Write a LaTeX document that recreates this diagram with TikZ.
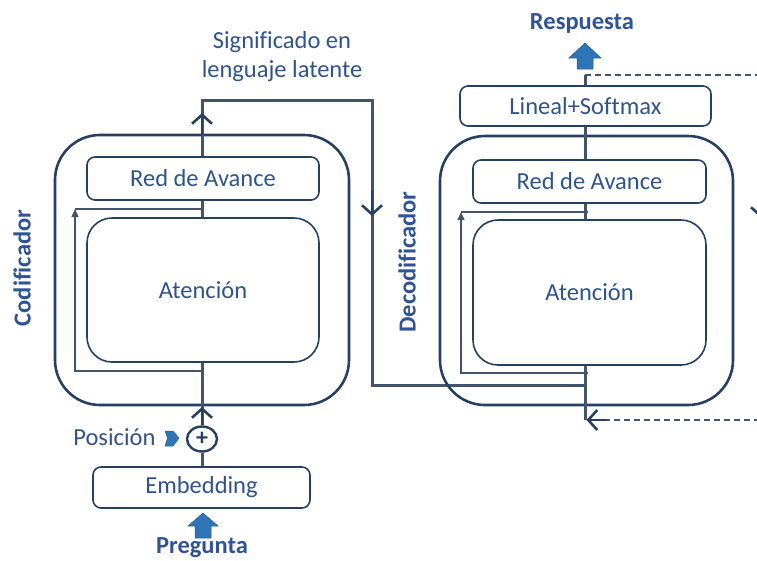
\documentclass[tikz,border=0pt]{standalone}
\usepackage{fontspec}
\setmainfont{Carlito}[Ligatures=NoCommon]
\usetikzlibrary{arrows.meta,shapes.geometric}
\definecolor{boxdark}{RGB}{38,64,98}
\definecolor{linegray}{RGB}{68,84,106}
\definecolor{txtblue}{RGB}{47,84,140}
\definecolor{lblblue}{RGB}{46,84,150}
\definecolor{arrfill}{RGB}{46,117,182}
\tikzset{
  outerbox/.style={draw=boxdark, line width=2.6pt, rounded corners=45pt, inner sep=0pt},
  innerbox/.style={draw=boxdark, line width=1.6pt, rounded corners=8pt, fill=white, inner sep=0pt, text=txtblue, font=\fontsize{24.5}{29}\selectfont},
  bigbox/.style={innerbox, rounded corners=25pt},
  mainline/.style={draw=linegray, line width=3pt},
  skipline/.style={draw=linegray, line width=1.3pt},
  chev/.style={draw=boxdark, line width=2.6pt, -{Straight Barb[length=9pt,width=20pt,line width=2.6pt]}},
  lbl/.style={text=lblblue, font=\fontsize{24.5}{29}\selectfont\bfseries},
  plain/.style={text=txtblue, font=\fontsize{24.5}{29}\selectfont, align=center},
  blockarrow/.style={fill=arrfill, draw=arrfill!80!black, line width=0.5pt},
  dashline/.style={draw=linegray, line width=1.5pt, dash pattern=on 6pt off 4pt},
}
\begin{document}
\begin{tikzpicture}[x=1pt,y=-1pt]
\useasboundingbox (0,0) rectangle (757,560);
% ---------- Encoder ----------
\node[outerbox, minimum width=294pt, minimum height=270pt] (enc) at (202,270) {};
\node[innerbox, minimum width=232pt, minimum height=43pt] (ered) at (203,178.5) {Red de Avance};
\node[bigbox, minimum width=232pt, minimum height=144pt] (eatt) at (203,290) {Atención};
\node[innerbox, minimum width=217pt, minimum height=41pt] (emb) at (201.5,487.5) {Embedding};
\node[ellipse, draw=boxdark, line width=2.4pt, minimum width=30pt, minimum height=25pt, inner sep=0pt, fill=white, font=\fontsize{24}{24}\selectfont\bfseries, text=boxdark] (plus) at (202,439) {+};
\node[plain, anchor=east] (pos) at (159,437) {Posición};
\node[lbl, rotate=90] (cod) at (22,268) {Codificador};
\node[plain] (sig) at (282,57) {Significado en\\lenguaje latente};
\node[lbl] (preg) at (202,548) {Pregunta};

\coordinate (eTop) at (202,100);
\coordinate (eCorner) at (372,100);
\coordinate (eDown) at (372,385);
\coordinate (dJoin) at (584,385);

% main encoder lines
\draw[mainline] (emb.north -| plus) -- (plus.south);
\draw[mainline] (plus.north) -- (eatt.south -| plus);
\draw[chev] (plus.north) -- (202,407);
\draw[mainline] (eatt.north -| plus) -- (ered.south -| plus);
\draw[mainline] (ered.north -| plus) -- (eTop) -- (eCorner) -- (eDown) -- (dJoin);
\draw[chev] (202,135) -- (202,113);
\draw[chev] (372,190) -- (372,216);
% encoder skip
\coordinate (es1) at (202,371);
\coordinate (es2) at (75,371);
\coordinate (es3) at (75,209);
\coordinate (es4) at (202,209);
\draw[skipline, -{Triangle[length=8pt,width=7pt]}] (es1) -- (es2) -- (es3);
\draw[skipline] (es3) -- (es4);

% Posicion arrow
\fill[blockarrow] (165,431) -- (173,431) -- (179,438) -- (173,446) -- (165,446) -- (167.5,438) -- cycle;
% Pregunta arrow
\fill[blockarrow] (195,538) -- (195,526) -- (188,526) -- (203,513) -- (218,526) -- (211,526) -- (211,538) -- cycle;

% ---------- Decoder ----------
\node[outerbox, minimum width=293pt, minimum height=269pt] (dec) at (586.5,270.5) {};
\node[innerbox, minimum width=233pt, minimum height=43pt] (dred) at (589.5,181.5) {Red de Avance};
\node[bigbox, minimum width=233pt, minimum height=145pt] (datt) at (589.5,292.5) {Atención};
\node[innerbox, minimum width=251pt, minimum height=40pt] (lin) at (585.5,106) {Lineal+Softmax};
\node[lbl, rotate=90] (decl) at (407,262) {Decodificador};
\node[lbl] (resp) at (582,23) {Respuesta};

\coordinate (dTop) at (585,75);
\coordinate (dBot) at (585,420);
\coordinate (dDashTopEnd) at (770,75);
\coordinate (dDashBotEnd) at (770,420);
\coordinate (dArrStart) at (607,420);

\draw[mainline] (lin.north -| dTop) -- (dTop);
\draw[mainline] (dred.north -| dTop) -- (lin.south -| dTop);
\draw[mainline] (datt.north -| dTop) -- (dred.south -| dTop);
\draw[mainline] (datt.south -| dTop) -- (dBot);
\draw[dashline] (dTop) -- (dDashTopEnd);
\draw[dashline] (dDashBotEnd) -- (dArrStart);
\draw[chev] (dArrStart) -- (586.5,420);
% right side return (mostly off page)
\draw[mainline] (761,75) -- (761,420);
\draw[chev] (761,195) -- (761,218);
% decoder skip
\coordinate (ds1) at (588,373);
\coordinate (ds2) at (461,373);
\coordinate (ds3) at (461,212);
\coordinate (ds4) at (588,212);
\draw[skipline, -{Triangle[length=8pt,width=7pt]}] (ds1) -- (ds2) -- (ds3);
\draw[skipline] (ds3) -- (ds4);

% Respuesta arrow
\fill[blockarrow] (577,69) -- (577,58) -- (569,58) -- (585,43) -- (601,58) -- (593,58) -- (593,69) -- cycle;
\end{tikzpicture}
\end{document}
